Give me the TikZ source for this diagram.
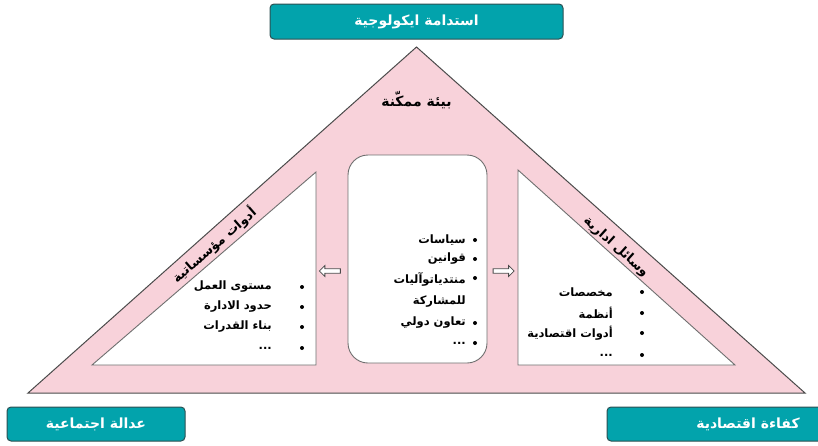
\documentclass[tikz,border=0pt]{standalone}
\usepackage{fontspec}
\newfontfamily\arabicfont[Script=Arabic]{DejaVu Sans}
\TeXXeTstate=1
\usetikzlibrary{shapes.arrows}
\definecolor{pinkfill}{RGB}{248,210,218}
\definecolor{tealbox}{RGB}{2,163,172}
\definecolor{tealedge}{RGB}{45,80,82}
\definecolor{edgegray}{RGB}{75,75,75}
\begin{document}
\begin{tikzpicture}[x=1pt,y=-1pt,
  titlebox/.style={draw=tealedge,line width=1pt,fill=tealbox,rounded corners=4pt,
    text=white,font=\arabicfont\bfseries\fontsize{14}{16}\selectfont,inner sep=0pt},
  band/.style={draw=edgegray,line width=1pt,fill=pinkfill,line join=miter},
  panel/.style={draw=edgegray!80,line width=0.9pt,fill=white},
  itemtext/.style={anchor=east,inner sep=0pt,font=\arabicfont\bfseries\fontsize{11.5}{14}\selectfont},
  bandtext/.style={inner sep=0pt,font=\arabicfont\bfseries\fontsize{13}{15}\selectfont},
  dot/.style={circle,fill=black,inner sep=0pt,minimum size=4pt},
  flowarrow/.style={single arrow,draw=edgegray,line width=0.8pt,fill=white,
    minimum height=21pt,minimum width=11pt,single arrow head extend=2pt,inner sep=1pt}]
\useasboundingbox (0,0) rectangle (818,445);
\clip (0,0) rectangle (818,445);

% big triangle
\coordinate (apex) at (416.5,47);
\coordinate (bl) at (28,393);
\coordinate (br) at (805,393);
\draw[band] (apex) -- (br) -- (bl) -- cycle;

% inner triangles
\coordinate (lt1) at (92,365);
\coordinate (lt2) at (316,365);
\coordinate (lt3) at (316,172);
\draw[panel] (lt1) -- (lt2) -- (lt3) -- cycle;
\coordinate (rt1) at (518,170);
\coordinate (rt2) at (518,365);
\coordinate (rt3) at (735,365);
\draw[panel] (rt1) -- (rt2) -- (rt3) -- cycle;

% centre panel
\draw[panel,rounded corners=20pt] (348,155) rectangle (487,363);

% title boxes
\node[titlebox,minimum width=293pt,minimum height=35pt] (eco) at (416.5,21.5) {\beginR استدامة ايكولوجية\endR};
\node[titlebox,minimum width=178pt,minimum height=34pt] (social) at (96,424) {\beginR عدالة اجتماعية\endR};
\node[titlebox,minimum width=282pt,minimum height=34pt] (econ) at (748,424) {\beginR كفاءة اقتصادية\endR};

% apex label
\node[bandtext,font=\arabicfont\bfseries\fontsize{14}{16}\selectfont] (env) at (416.5,100) {\beginR بيئة ممكّنة\endR};

% band labels
\node[bandtext,rotate=41] (inst) at (214,245) {\beginR أدوات مؤسساتية\endR};
\node[bandtext,rotate=-42] (mgmt) at (616,247) {\beginR وسائل ادارية\endR};

% arrows
\node[flowarrow,shape border rotate=180] (arrL) at (331,271) {};
\node[flowarrow] (arrR) at (502.5,271) {};

% left list
\node[itemtext] (l1) at (272,287) {\beginR مستوى العمل\endR};
\node[itemtext] (l2) at (272,307) {\beginR حدود الادارة\endR};
\node[itemtext] (l3) at (272,327) {\beginR بناء القدرات\endR};
\node[itemtext] (l4) at (272,348) {...};
\node[dot] (lb1) at (302,287) {};
\node[dot] (lb2) at (302,307) {};
\node[dot] (lb3) at (302,327) {};
\node[dot] (lb4) at (302,348) {};

% centre list
\node[itemtext] (c1) at (466,240) {\beginR سياسات\endR};
\node[itemtext] (c2) at (466,259) {\beginR قوانين\endR};
\node[itemtext] (c3) at (466,279) {\beginR منتدياتوآليات\endR};
\node[itemtext] (c4) at (466,302) {\beginR للمشاركة\endR};
\node[itemtext] (c5) at (466,323) {\beginR تعاون دولي\endR};
\node[itemtext] (c6) at (466,343) {...};
\node[dot] (cb1) at (475,240) {};
\node[dot] (cb2) at (475,259) {};
\node[dot] (cb3) at (475,278) {};
\node[dot] (cb5) at (475,323) {};
\node[dot] (cb6) at (475,343) {};

% right list
\node[itemtext] (r1) at (613,292) {\beginR مخصصات\endR};
\node[itemtext] (r2) at (613,313) {\beginR أنظمة\endR};
\node[itemtext] (r3) at (613,333) {\beginR أدوات اقتصادية\endR};
\node[itemtext] (r4) at (613,355) {...};
\node[dot] (rb1) at (642,292) {};
\node[dot] (rb2) at (642,313) {};
\node[dot] (rb3) at (642,333) {};
\node[dot] (rb4) at (642,355) {};
\end{tikzpicture}
\end{document}
